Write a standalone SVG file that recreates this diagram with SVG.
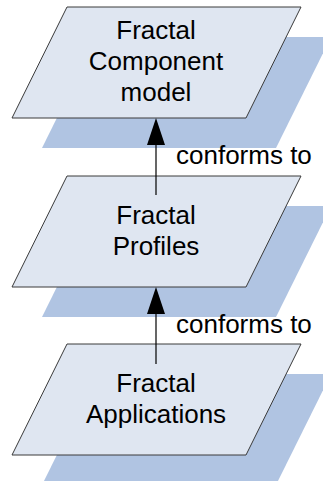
<svg xmlns="http://www.w3.org/2000/svg" width="323" height="481" viewBox="0 0 323 481">
<style>
.shadow{fill:#b0c4e2;stroke:none}
.box{fill:#dfe6f1;stroke:#3a3a3a;stroke-width:1}
.lbl{font-family:"Liberation Sans",Arial,sans-serif;font-size:26px;fill:#000;text-anchor:middle}
.conn{font-family:"Liberation Sans",Arial,sans-serif;font-size:26px;fill:#000}
.edge{stroke:#000;stroke-width:1.2;fill:none}
</style>
<defs>
<polygon id="arrowhead" points="0,0 -9,27 9,27" fill="#000"/>
</defs>
<g id="node-component-model">
<polygon class="shadow" points="97,37 331,37 276,148 42,148"/>
<polygon class="box" points="67,7 301,7 246,118 12,118"/>
<text class="lbl" x="156" y="39">Fractal</text>
<text class="lbl" x="156" y="70">Component</text>
<text class="lbl" x="156" y="101">model</text>
</g>
<g id="node-profiles">
<polygon class="shadow" points="97,206 331,206 276,317 42,317"/>
<polygon class="box" points="67,176 301,176 246,287 12,287"/>
<text class="lbl" x="156" y="224">Fractal</text>
<text class="lbl" x="156" y="255">Profiles</text>
</g>
<g id="node-applications">
<polygon class="shadow" points="97,374 331,374 276,485 42,485"/>
<polygon class="box" points="67,344 301,344 246,455 12,455"/>
<text class="lbl" x="156" y="392">Fractal</text>
<text class="lbl" x="156" y="423">Applications</text>
</g>
<g id="connectors">
<line class="edge" x1="156" y1="195" x2="156" y2="140"/>
<use href="#arrowhead" x="156" y="118"/>
<text class="conn" x="176" y="164">conforms to</text>
<line class="edge" x1="156" y1="364" x2="156" y2="309"/>
<use href="#arrowhead" x="156" y="287"/>
<text class="conn" x="176" y="333">conforms to</text>
</g>
</svg>
